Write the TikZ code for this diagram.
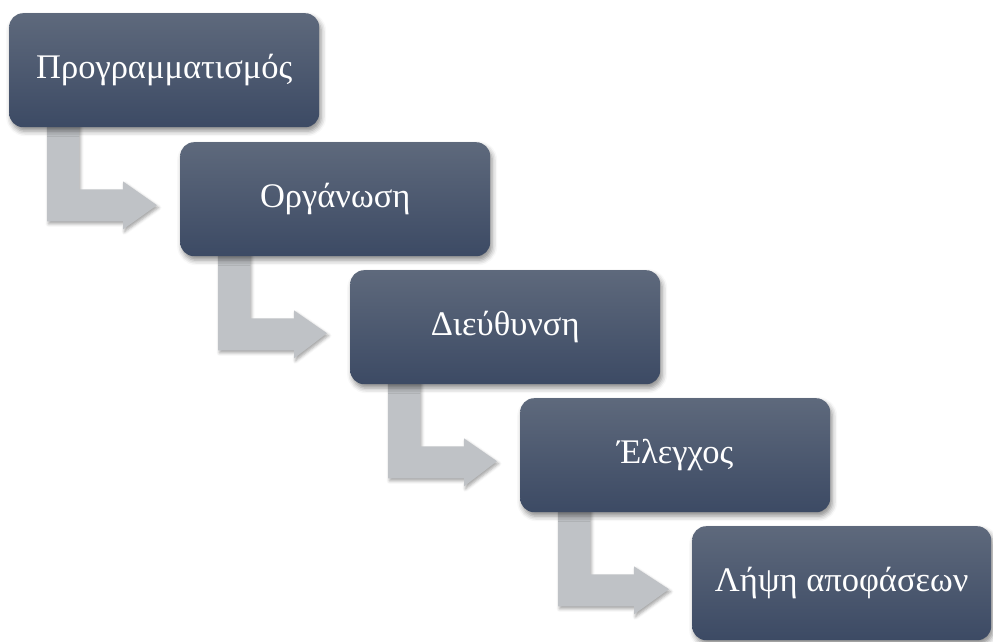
\documentclass[tikz,border=0pt]{standalone}
\usepackage{fontspec}
\setmainfont{Liberation Serif}
\usetikzlibrary{calc,shadows.blur}

\definecolor{boxtop}{RGB}{94,105,124}
\definecolor{boxbottom}{RGB}{60,74,100}
\definecolor{elbowgray}{RGB}{191,194,198}

\pgfdeclarelayer{background}
\pgfsetlayers{background,main}

\tikzset{
  stagebox/.style={
    rounded corners=14pt, minimum width=310pt, minimum height=114pt,
    top color=boxtop, bottom color=boxbottom, draw=none,
    text=white, font=\fontsize{34.5}{38}\selectfont,
    blur shadow={shadow xshift=2pt, shadow yshift=-4pt,
                 shadow blur radius=5pt, shadow opacity=45}
  },
  elbow/.style={
    fill=elbowgray, draw=none,
    blur shadow={shadow xshift=1.5pt, shadow yshift=-2.5pt,
                 shadow blur radius=3pt, shadow opacity=35}
  }
}

% bent arrow leaving the bottom of #1 and pointing at the left side of #2
\newcommand{\elbowarrow}[2]{%
  \path[elbow]
    ($(#1.south west)+(38,-6)$) -- ++(32,0)
    -- ($(#1.south west)+(70,62)$)
    -- ($(#1.south west)+(114,62)$)
    -- ($(#1.south west)+(114,54)$)
    -- ($(#2.west)+(-23,6)$)
    -- ($(#1.south west)+(114,102)$)
    -- ($(#1.south west)+(114,94)$)
    -- ($(#1.south west)+(38,94)$)
    -- cycle;
}

\begin{document}
\begin{tikzpicture}[x=1pt,y=-1pt]
  \useasboundingbox (0,0) rectangle (993,642);

  % the five stages, stepping down to the right
  \path
    node[stagebox, anchor=north west] (b1) at (9,13)    {Προγραμματισμός}
    node[stagebox, anchor=north west] (b2) at (180,142) {Οργάνωση}
    node[stagebox, anchor=north west] (b3) at (350,270) {Διεύθυνση}
    node[stagebox, anchor=north west] (b4) at (520,398) {Έλεγχος};
  \path
    node[stagebox, anchor=north west, minimum width=299pt] (b5) at (692,526) {Λήψη αποφάσεων};

  % elbow arrows go behind the boxes
  \begin{pgfonlayer}{background}
    \elbowarrow{b1}{b2}
    \elbowarrow{b2}{b3}
    \elbowarrow{b3}{b4}
    \elbowarrow{b4}{b5}
  \end{pgfonlayer}
\end{tikzpicture}
\end{document}
